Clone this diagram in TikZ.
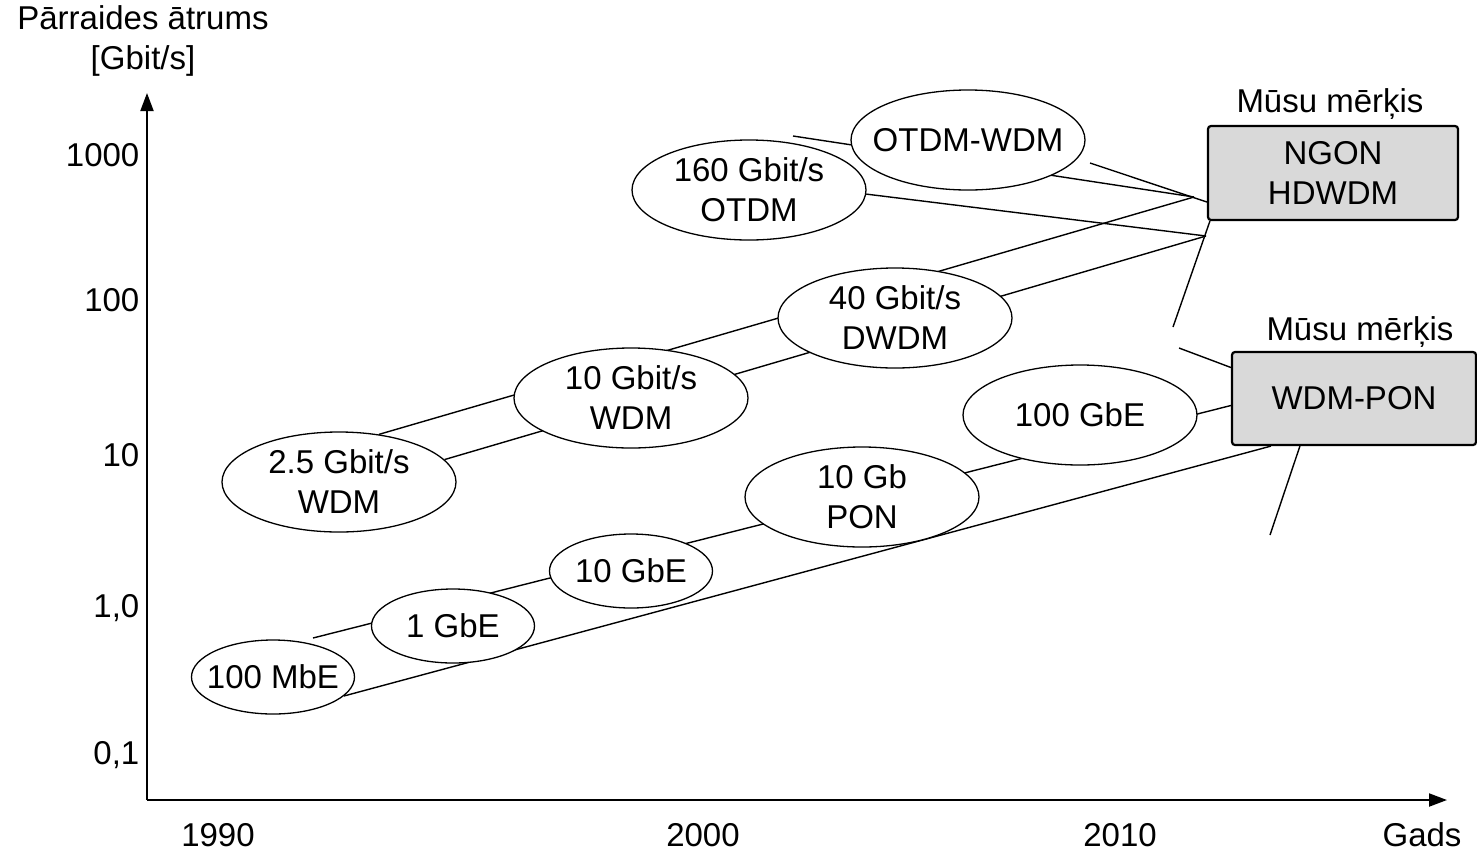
\documentclass[tikz,border=0pt]{standalone}
\usepackage{fontspec}
\setmainfont{Liberation Sans}
\usetikzlibrary{arrows.meta,shapes.geometric}
\pgfdeclarelayer{bg}
\pgfsetlayers{bg,main}

\begin{document}
\begin{tikzpicture}[x=1pt,y=-1pt,font=\fontsize{33}{40}\selectfont,line width=1.3pt,
  every node/.style={inner sep=0pt,align=center},
  every label/.style={inner sep=0pt,align=center},
  bub/.style={ellipse,draw,fill=white,minimum width=234pt,minimum height=100pt},
  sbub/.style={bub,minimum width=163pt,minimum height=74pt},
  goal/.style={draw,line width=2.2pt,rounded corners=3pt,fill=gray!30},
  trend/.style={line width=1.4pt},
  axis/.style={line width=2pt,-{Triangle[length=18pt,width=13pt]}}]
\useasboundingbox (0,0) rectangle (1477,852);
% axes
\coordinate(o) at (147,800);\coordinate(ytip) at (147,93);\coordinate(xtip) at (1447,800);
\draw[axis](o)--(ytip);\draw[axis](o)--(xtip);
\node(ytitle) at (143,41){Pārraides ātrums\\{[Gbit/s]}};
\node[anchor=east](t1000) at (140,155){1000};
\node[anchor=east](t100) at (140,300){100};
\node[anchor=east](t10) at (140,455){10};
\node[anchor=east](t1) at (140,608){1,0};
\node[anchor=east](t01) at (140,755){0,1};
\node(y1990) at (218,835){1990};
\node(y2000) at (703,835){2000};
\node(y2010) at (1120,835){2010};
\node(gads) at (1422,835){Gads};
% technologies
\node[bub,label={center:OTDM-WDM}](otdm) at (968,140){};
\node[bub,label={center:160 Gbit/s\\OTDM}](o160) at (749,190){};
\node[bub,label={center:40 Gbit/s\\DWDM}](dwdm) at (895,318){};
\node[bub,label={center:10 Gbit/s\\WDM}](wdm10) at (631,398){};
\node[bub,label={center:2.5 Gbit/s\\WDM}](wdm25) at (339,482){};
\node[bub,label={center:100 GbE}](gbe100) at (1080,415){};
\node[bub,label={center:10 Gb\\PON}](pon) at (862,497){};
\node[sbub,label={center:10 GbE}](gbe10) at (631,571){};
\node[sbub,label={center:1 GbE}](gbe1) at (453,626){};
\node[sbub,label={center:100 MbE}](mbe) at (273,677){};
% targets
\node[goal,minimum width=250pt,minimum height=94pt](ngon) at (1333,173){NGON\\HDWDM};
\node[goal,minimum width=244pt,minimum height=93pt](wpon) at (1354,398.5){WDM-PON};
\node(goal1) at (1330,104){Mūsu mērķis};
\node(goal2) at (1360,332){Mūsu mērķis};
% trend lines
\coordinate(h1) at (1194,197);\coordinate(h2) at (1206,236);
\coordinate(d0) at (793,136);\coordinate(e0) at (1090,163);
\coordinate(j1) at (1173,327);\coordinate(k0) at (1179,348);
\coordinate(g0) at (313,638);\coordinate(i1) at (1270,535);
\begin{pgfonlayer}{bg}
\draw[trend](wdm25.50)--(h1);\draw[trend](wdm25.12)--(h2);
\draw[trend](o160.-2)--(h2);\draw[trend](d0)--(h1);
\draw[trend](e0)--([yshift=-29pt]ngon.west);
\draw[trend]([xshift=3pt]ngon.south west)--(j1);
\draw[trend](k0)--([yshift=31pt]wpon.west);
\draw[trend](g0)--([yshift=-7pt]wpon.west);
\draw[trend](mbe.-15)--([xshift=40pt]wpon.south west);
\draw[trend]([xshift=69pt]wpon.south west)--(i1);
\end{pgfonlayer}
\end{tikzpicture}
\end{document}
